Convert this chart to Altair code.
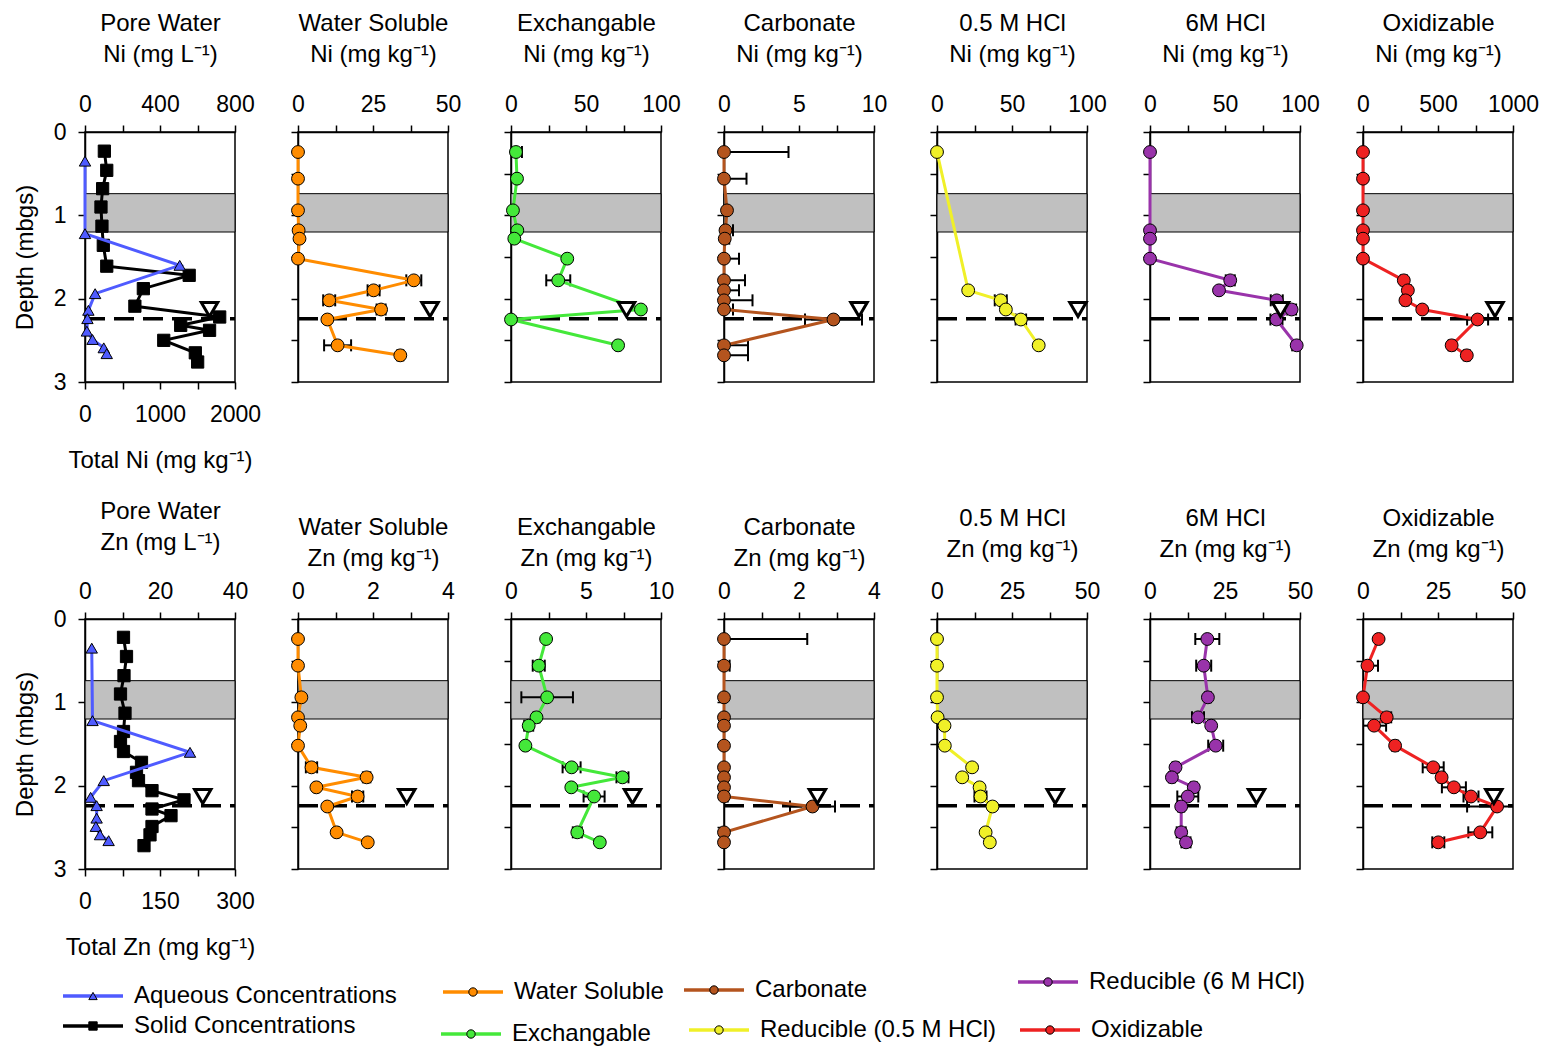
import altair as alt
import pandas as pd

FONT = "Liberation Sans"
FS_LAB = 23
FS_TIT = 24

# ---------------- data ----------------
DEPTH = [0.24, 0.56, 0.94, 1.18, 1.28, 1.52, 1.78, 1.90, 2.02, 2.13, 2.25, 2.56, 2.68]
AQ_DEPTH = [0.35, 1.22, 1.60, 1.94, 2.14, 2.24, 2.39, 2.49, 2.59, 2.66]
SOLID_NI_DEPTH = [0.23, 0.46, 0.68, 0.90, 1.13, 1.36, 1.61, 1.72, 1.88, 2.09, 2.22, 2.32, 2.38, 2.50, 2.65, 2.76]
SOLID_ZN_DEPTH = [0.22, 0.45, 0.68, 0.90, 1.13, 1.35, 1.47, 1.59, 1.72, 1.84, 1.94, 2.06, 2.17, 2.28, 2.36, 2.49, 2.59, 2.72]

NI_AQ = [0, 0, 505, 54, 18, 13, 10, 40, 100, 116]
NI_SOLID = [258, 290, 235, 213, 226, 244, 290, 1389, 778, 665, 1796, 1276, 1661, 1050, 1471, 1502]
ZN_AQ = [1.8, 2.0, 28.0, 5.0, 1.5, 3.1, 3.1, 2.9, 4.0, 6.3]
ZN_SOLID = [77, 83, 78, 71, 80, 77, 71, 77, 113, 103, 107, 134, 198, 134, 172, 134, 130, 118]

NI_WS = [0, 0, 0, 0.2, 0.5, 0, 38.6, 25.2, 10.4, 27.7, 9.8, 13.2, 34.1]
NI_WS_ERR = [0, 0, 0, 0, 0, 0, 2.5, 2.0, 2.0, 1.5, 0, 4.5, 1.0]
NI_EX = [3.3, 4.0, 1.3, 4.2, 2.2, 37.5, 31.5, None, None, 86.6, 0.0, 71.4, None]
NI_EX_ERR = [4.0, 1.0, 0, 0, 0, 1.0, 8.0, 0, 0, 1.0, 0, 1.5, 0]
NI_CARB = [0, 0, 0.2, 0.1, 0.05, 0, 0, 0, 0, 0, 7.3, 0, 0]
NI_CARB_ERR = [4.3, 1.5, 0.1, 0.5, 0.3, 1.0, 1.4, 1.0, 1.9, 0.6, 1.9, 1.6, 1.6]
NI_HCL05 = [0, None, None, None, None, None, None, 20.8, 42.5, 45.9, 55.9, 67.8, None]
NI_HCL05_ERR = [0, 0, 0, 0, 0, 0, 0, 1.0, 4.0, 1.0, 3.5, 1.0, 0]
NI_HCL6 = [0, None, None, 0, 0, 0, 53.5, 46.0, 84.5, 94.4, 84.3, 97.8, None]
NI_HCL6_ERR = [0, 0, 0, 0.5, 0, 2.0, 3.0, 1.0, 4.0, 3.0, 4.0, 3.0, 0]
NI_OX = [0, 0, 0, 0, 0, 0, 272, 299, 283, 395, 764, 591, 692]
NI_OX_ERR = [0, 0, 0, 0, 0, 10, 20, 20, 20, 10, 70, 20, 20]

ZN_WS = [0, 0, 0.09, 0, 0.06, 0, 0.36, 1.83, 0.49, 1.59, 0.78, 1.03, 1.86]
ZN_WS_ERR = [0, 0, 0, 0, 0, 0, 0.15, 0.1, 0.05, 0.15, 0, 0.05, 0]
ZN_EX = [2.34, 1.85, 2.41, 1.70, 1.18, 0.96, 4.04, 7.43, 4.02, 5.54, None, 4.42, 5.92]
ZN_EX_ERR = [0.1, 0.4, 1.72, 0.2, 0.3, 0.1, 0.6, 0.4, 0.1, 0.7, 0, 0.3, 0.1]
ZN_CARB = [0, 0, 0, 0, 0, 0, 0, 0, 0, 0, 2.36, 0, 0]
ZN_CARB_ERR = [2.22, 0.15, 0.05, 0.05, 0, 0, 0, 0.1, 0, 0.1, 0.6, 0.05, 0.05]
ZN_HCL05 = [0, 0, 0, 0.2, 2.5, 2.6, 11.7, 8.4, 14.2, 14.5, 18.5, 16.2, 17.6]
ZN_HCL05_ERR = [0, 0, 0, 0, 0, 0, 0, 0, 0, 2.0, 0, 0, 0]
ZN_HCL6 = [19.1, 17.9, 19.3, 16.0, 20.4, 21.9, 8.5, 7.3, 14.6, 12.6, 10.4, 10.4, 12.0]
ZN_HCL6_ERR = [4.0, 2.5, 1.0, 2.0, 1.0, 2.5, 1.0, 1.0, 1.0, 3.5, 1.0, 1.5, 1.5]
ZN_OX = [5.2, 1.5, 0, 7.9, 3.7, 10.7, 23.4, 26.2, 30.3, 36.0, 44.7, 39.1, 25.1]
ZN_OX_ERR = [0.5, 3.5, 0, 1.5, 4.0, 1.0, 3.5, 1.0, 4.0, 2.5, 10.0, 4.0, 2.0]

CLAY_BAND = [0.74, 1.20]
WATER_TABLE = 2.24
TRI_DEPTH = 2.13
TRI_NI = [664, 44, 77, 9.0, 94, 87, 880]
TRI_ZN = [31.4, 2.9, 8.1, 2.49, 39.4, 35.5, 43.6]

FRACTIONS = ["Water Soluble", "Exchangable", "Carbonate", "0.5 M HCl", "6M HCl", "Oxidizable"]
COLORS = ["#FF8C00", "#44E83A", "#B4541E", "#F0F028", "#9933AA", "#EE2222"]
AQ_COLOR = "#4F5BFF"
SOLID_COLOR = "#000000"

NI_DOMAINS = [[0, 50], [0, 100], [0, 10], [0, 100], [0, 100], [0, 1000]]
NI_STEPS = [12.5, 25, 2.5, 25, 25, 250]
NI_MAJOR = [25, 50, 5, 50, 50, 500]
ZN_DOMAINS = [[0, 4], [0, 10], [0, 4], [0, 50], [0, 50], [0, 50]]
ZN_STEPS = [1, 2.5, 1, 12.5, 12.5, 12.5]
ZN_MAJOR = [2, 5, 2, 25, 25, 25]

LEG_LABELS = ["Aqueous Concentrations", "Solid Concentrations", "Water Soluble", "Exchangable",
              "Carbonate", "Reducible (0.5 M HCl)", "Reducible (6 M HCl)", "Oxidizable"]
LEG_COLORS = [AQ_COLOR, SOLID_COLOR] + [COLORS[0], COLORS[1], COLORS[2], COLORS[3], COLORS[4], COLORS[5]]
LEG_SHAPES = ["triangle-up", "square", "circle", "circle", "circle", "circle", "circle", "circle"]
LEG_X = [62, 62, 442, 440, 683, 688, 1017, 1019]
LEG_Y = [996, 1026, 992, 1034, 990, 1030, 982, 1030]

# ---------------- layout constants ----------------
W, H = 150, 250
GRAY = "#C0C0C0"
TITLE_PAD = 27
YTICKS = [0, 0.5, 1, 1.5, 2, 2.5, 3]


def ticks(dom, step):
    n = int(round((dom[1] - dom[0]) / step))
    return [round(dom[0] + i * step, 6) for i in range(n + 1)]


def make_df(depths, vals, errs=None):
    rows = []
    for i, (d, v) in enumerate(zip(depths, vals)):
        if v is None:
            continue
        e = errs[i] if errs else 0
        rows.append(dict(d=d, v=v, lo=v - e, hi=v + e, e=e))
    return pd.DataFrame(rows, columns=["d", "v", "lo", "hi", "e"])


def x_enc(field, dom, step, major, title, tpad, orient="top"):
    if orient == "top":
        ax = alt.Axis(orient="top", values=ticks(dom, step),
                      labelExpr=f"datum.value % {major} === 0 ? datum.label : ''",
                      format="d", title=title, titlePadding=tpad, labelFlush=False,
                      labelOverlap=False, tickSize=7, labelPadding=9,
                      titleLineHeight=31)
    else:
        ax = alt.Axis(orient="bottom", values=ticks(dom, step),
                      labelExpr=f"datum.value % {major} === 0 ? datum.label : ''",
                      format="d", title=title, titlePadding=22, labelFlush=False,
                      labelOverlap=False, tickSize=7, labelPadding=14)
    return alt.X(field, type="quantitative",
                 scale=alt.Scale(domain=dom, nice=False, zero=False), axis=ax)


def y_enc(field, first):
    if first:
        ax = alt.Axis(values=YTICKS, labelExpr="datum.value % 1 === 0 ? datum.label : ''",
                      format="d", title="Depth (mbgs)", tickSize=7, labelPadding=12,
                      titlePadding=16, labelOverlap=False)
    else:
        ax = alt.Axis(values=YTICKS, labels=False, title=None, tickSize=7)
    return alt.Y(field, type="quantitative",
                 scale=alt.Scale(domain=[0, 3], reverse=True, nice=False, zero=False), axis=ax)


band_df = pd.DataFrame({"b0": [CLAY_BAND[0]], "b1": [CLAY_BAND[1]]})
wt_df = pd.DataFrame({"d": [WATER_TABLE]})


def base_layers(first):
    band = alt.Chart(band_df).mark_rect(color=GRAY, stroke="black", strokeWidth=1).encode(
        x=alt.value(0), x2=alt.value(W), y=y_enc("b0", first), y2=alt.Y2("b1"))
    wt = alt.Chart(wt_df).mark_rule(color="black", strokeWidth=3.5, strokeDash=[20, 9]).encode(
        x=alt.value(0), x2=alt.value(W), y=y_enc("d", first))
    return band, wt


def tri_layer(xv, X, first):
    tdf = pd.DataFrame({"d": [TRI_DEPTH], "v": [xv]})
    return alt.Chart(tdf).mark_point(shape="triangle-down", filled=True, fill="white",
                                     stroke="black", strokeWidth=3, size=270, opacity=1).encode(
        x=X("v"), y=y_enc("d", first))


def seq_panel(vals, errs, dom, step, major, title, tpad, tri_x, color):
    df = make_df(DEPTH, vals, errs)
    edf = df[df.e > 0]

    def X(f):
        return x_enc(f, dom, step, major, title, tpad)

    band, wt = base_layers(False)
    Y = lambda f: y_enc(f, False)
    err_rule = alt.Chart(edf).mark_rule(color="black", strokeWidth=2, clip=True).encode(
        x=X("lo"), x2=alt.X2("hi"), y=Y("d"))
    cap_lo = alt.Chart(edf).mark_tick(orient="vertical", size=12, thickness=2, color="black",
                                      opacity=1, clip=True).encode(x=X("lo"), y=Y("d"))
    cap_hi = alt.Chart(edf).mark_tick(orient="vertical", size=12, thickness=2, color="black",
                                      opacity=1, clip=True).encode(x=X("hi"), y=Y("d"))
    line = alt.Chart(df).mark_line(color=color, strokeWidth=3).encode(
        x=X("v"), y=Y("d"), order=alt.Order("d:Q"))
    pts = alt.Chart(df).mark_point(shape="circle", filled=True, fill=color, stroke="black",
                                   strokeWidth=1, size=165, opacity=1).encode(x=X("v"), y=Y("d"))
    tri = tri_layer(tri_x, X, False)
    return alt.layer(band, wt, err_rule, cap_lo, cap_hi, line, pts, tri).properties(width=W, height=H)


def pore_panel(aq, solid_depth, solid, top_dom, top_step, top_major, top_title,
               bot_dom, bot_step, bot_major, bot_title, tri_x, tpad):
    adf = make_df(AQ_DEPTH, aq)
    sdf = make_df(solid_depth, solid)

    def XT(f):
        return x_enc(f, top_dom, top_step, top_major, top_title, tpad)

    def XB(f):
        return x_enc(f, bot_dom, bot_step, bot_major, bot_title, 22, orient="bottom")

    Y = lambda f: y_enc(f, True)
    band, wt = base_layers(True)
    s_line = alt.Chart(sdf).mark_line(color=SOLID_COLOR, strokeWidth=3).encode(
        x=XB("v"), y=Y("d"), order=alt.Order("d:Q"))
    s_pts = alt.Chart(sdf).mark_point(shape="square", filled=True, fill=SOLID_COLOR, stroke="black",
                                      strokeWidth=1, size=150, opacity=1).encode(x=XB("v"), y=Y("d"))
    a_line = alt.Chart(adf).mark_line(color=AQ_COLOR, strokeWidth=3).encode(
        x=XT("v"), y=Y("d"), order=alt.Order("d:Q"))
    a_pts = alt.Chart(adf).mark_point(shape="triangle-up", filled=True, fill=AQ_COLOR, stroke="black",
                                      strokeWidth=1, size=130, opacity=1).encode(x=XT("v"), y=Y("d"))
    tri = tri_layer(tri_x, XT, True)
    top = alt.layer(a_line, a_pts, tri)
    bot = alt.layer(s_line, s_pts)
    return alt.layer(band, wt, bot, top).resolve_scale(x="independent").properties(width=W, height=H)


def build_row(metal, aq, solid_depth, solid, top_dom, top_step, top_major, bot_dom, bot_step,
              bot_major, series, errs, domains, steps, majors, tris, pads):
    unit_aq = "mg L⁻¹"
    unit = "mg kg⁻¹"
    panels = [pore_panel(aq, solid_depth, solid, top_dom, top_step, top_major,
                         ["Pore Water", f"{metal} ({unit_aq})"],
                         bot_dom, bot_step, bot_major, f"Total {metal} ({unit})", tris[0], pads[0])]
    for i in range(6):
        panels.append(seq_panel(series[i], errs[i], domains[i], steps[i], majors[i],
                                [FRACTIONS[i], f"{metal} ({unit})"], pads[i + 1], tris[i + 1], COLORS[i]))
    return alt.hconcat(*panels, spacing=63, bounds="flush")


row_ni = build_row("Ni", NI_AQ, SOLID_NI_DEPTH, NI_SOLID, [0, 800], 200, 400, [0, 2000], 500, 1000,
                   [NI_WS, NI_EX, NI_CARB, NI_HCL05, NI_HCL6, NI_OX],
                   [NI_WS_ERR, NI_EX_ERR, NI_CARB_ERR, NI_HCL05_ERR, NI_HCL6_ERR, NI_OX_ERR],
                   NI_DOMAINS, NI_STEPS, NI_MAJOR, TRI_NI, [TITLE_PAD] * 7)
row_zn = build_row("Zn", ZN_AQ, SOLID_ZN_DEPTH, ZN_SOLID, [0, 40], 10, 20, [0, 300], 75, 150,
                   [ZN_WS, ZN_EX, ZN_CARB, ZN_HCL05, ZN_HCL6, ZN_OX],
                   [ZN_WS_ERR, ZN_EX_ERR, ZN_CARB_ERR, ZN_HCL05_ERR, ZN_HCL6_ERR, ZN_OX_ERR],
                   ZN_DOMAINS, ZN_STEPS, ZN_MAJOR, TRI_ZN,
                   [26, 10, 10, 10, 19, 19, 19])

# ---------------- legend ----------------
leg = pd.DataFrame({"label": LEG_LABELS, "color": LEG_COLORS, "shape": LEG_SHAPES,
                    "x0": LEG_X, "y": LEG_Y})
leg["x1"] = leg["x0"] + 60
leg["xm"] = leg["x0"] + 30
leg["xt"] = leg["x0"] + 71
LW = 1427
LX = alt.Scale(domain=[84, 84 + LW], nice=False, zero=False)
LY = alt.Scale(domain=[960, 1045], nice=False, zero=False, reverse=True)
cscale = alt.Scale(domain=LEG_LABELS, range=LEG_COLORS)
sscale = alt.Scale(domain=LEG_LABELS, range=LEG_SHAPES)
lb = alt.Chart(leg)
leg_line = lb.mark_rule(strokeWidth=3.5).encode(
    x=alt.X("x0:Q", scale=LX, axis=None), x2="x1:Q",
    y=alt.Y("y:Q", scale=LY, axis=None),
    color=alt.Color("label:N", scale=cscale, legend=None))
leg_pt = lb.mark_point(filled=True, stroke="black", strokeWidth=1, size=70, opacity=1).encode(
    x=alt.X("xm:Q", scale=LX, axis=None), y=alt.Y("y:Q", scale=LY, axis=None),
    fill=alt.Fill("label:N", scale=cscale, legend=None),
    shape=alt.Shape("label:N", scale=sscale, legend=None))
leg_txt = lb.mark_text(align="left", baseline="middle", font=FONT, fontSize=FS_TIT, color="black").encode(
    x=alt.X("xt:Q", scale=LX, axis=None), y=alt.Y("y:Q", scale=LY, axis=None), text="label:N")
legend = alt.layer(leg_line, leg_pt, leg_txt).properties(
    width=LW, height=85, view=alt.ViewBackground(stroke=None))

# with "flush" bounds a nested concat counts as zero-sized, so spacings are measured
# between the tops of the rows
ROW_TOP_GAP = H + 237
grid = alt.vconcat(row_ni, row_zn, spacing=ROW_TOP_GAP, bounds="flush")
chart = alt.vconcat(grid, legend, spacing=828, bounds="flush").properties(
    padding={"left": 12, "top": 10, "right": 0, "bottom": 0}
).configure(background="white").configure_view(stroke="black", strokeWidth=1.5).configure_axis(
    domainColor="black", tickColor="black", labelColor="black", titleColor="black",
    labelFont=FONT, titleFont=FONT, labelFontSize=FS_LAB, titleFontSize=FS_TIT,
    titleFontWeight="normal", domainWidth=1.5, tickWidth=1.5, grid=False
)

chart.save("out.html", embed_options={"renderer": "svg", "actions": False})
